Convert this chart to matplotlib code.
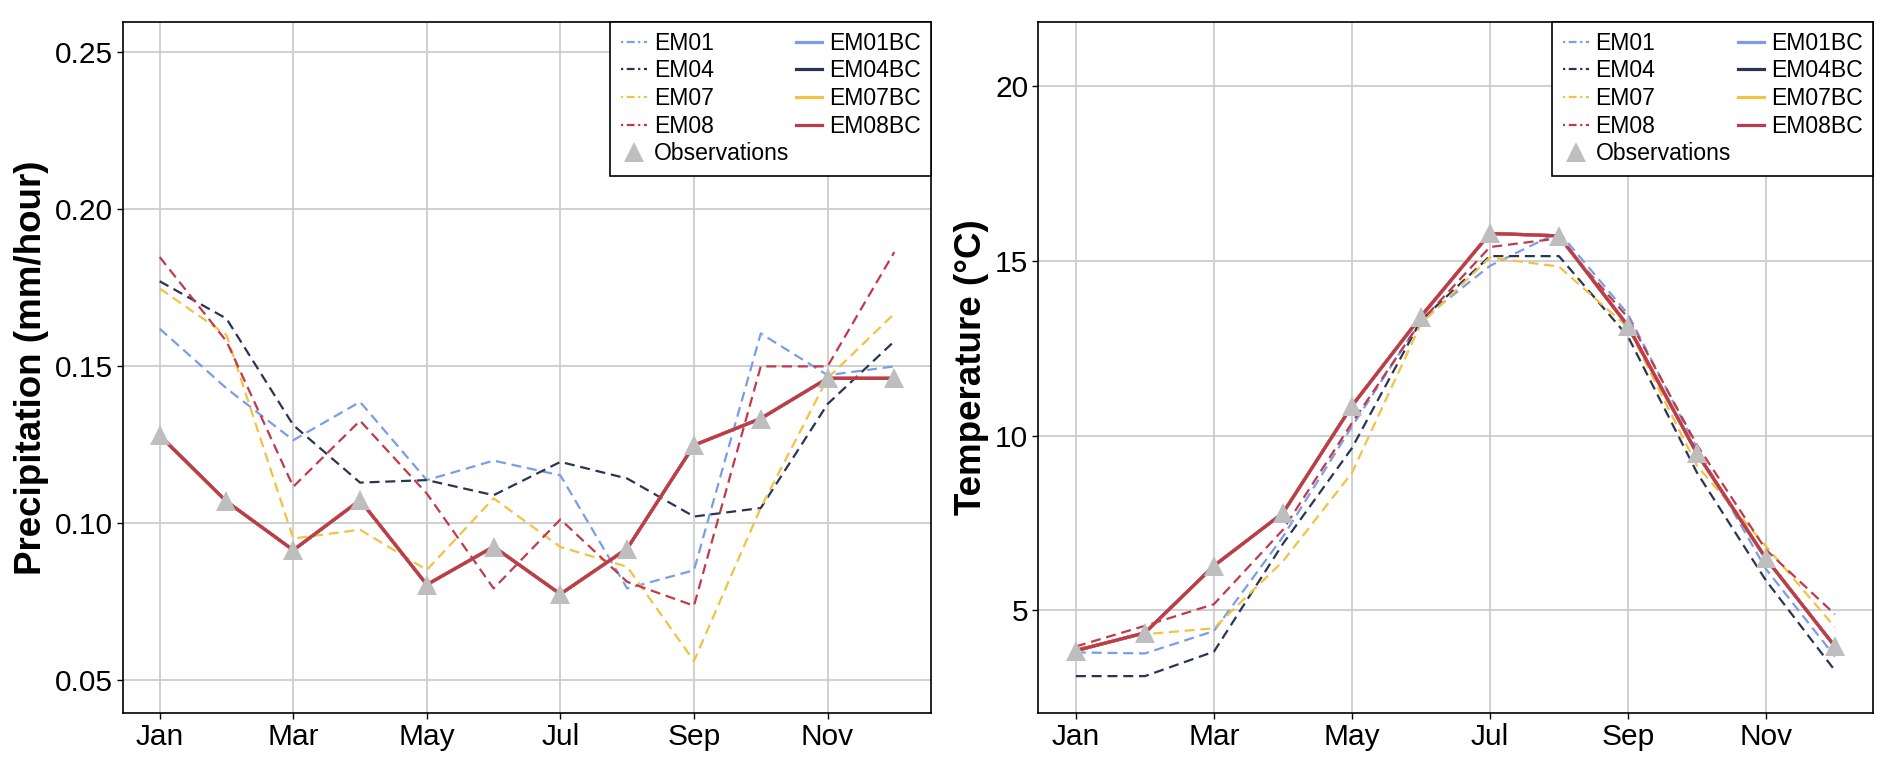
import matplotlib
matplotlib.use("Agg")
import matplotlib.pyplot as plt
from matplotlib.lines import Line2D

plt.rcParams['font.family'] = ['Liberation Sans', 'DejaVu Sans']

months = list(range(1, 13))
tick_months = [1, 3, 5, 7, 9, 11]
tick_labels = ["Jan", "Mar", "May", "Jul", "Sep", "Nov"]

# Precipitation (mm/hour)
pr_obs  = [0.128, 0.107, 0.0915, 0.1074, 0.0805, 0.0926, 0.0775, 0.092, 0.1249, 0.1334, 0.1462, 0.1462]
pr_em01 = [0.162, 0.143, 0.1265, 0.1387, 0.1138, 0.1200, 0.1153, 0.0793, 0.0851, 0.1605, 0.1472, 0.1500]
pr_em04 = [0.1771, 0.1652, 0.1313, 0.1130, 0.1138, 0.1090, 0.1196, 0.1143, 0.1022, 0.1049, 0.1380, 0.1580]
pr_em07 = [0.1748, 0.1600, 0.0952, 0.0980, 0.0852, 0.1080, 0.0925, 0.0862, 0.0562, 0.1050, 0.1462, 0.1668]
pr_em08 = [0.1848, 0.1580, 0.1117, 0.1327, 0.1095, 0.0793, 0.1013, 0.0814, 0.0738, 0.1500, 0.1500, 0.1864]
pr_bc = pr_obs

# Temperature (°C)
tas_obs  = [3.84, 4.35, 6.27, 7.78, 10.85, 13.41, 15.79, 15.72, 13.14, 9.49, 6.48, 3.96]
tas_em01 = [3.79, 3.76, 4.40, 7.10, 10.26, 13.30, 14.86, 15.83, 13.48, 9.64, 6.18, 3.67]
tas_em04 = [3.11, 3.11, 3.81, 6.90, 9.64, 13.30, 15.14, 15.14, 12.84, 8.94, 5.85, 3.27]
tas_em07 = [3.89, 4.31, 4.48, 6.40, 8.93, 13.20, 15.10, 14.84, 13.10, 9.14, 6.83, 4.51]
tas_em08 = [3.96, 4.55, 5.17, 7.30, 10.36, 13.27, 15.40, 15.65, 13.38, 9.73, 6.73, 4.88]
tas_bc = tas_obs

names = ["EM01", "EM04", "EM07", "EM08"]
colors = ["#7A9DE8", "#2A3455", "#F2C243", "#C13A4B"]
obs_color = "#BEBEBE"

fig = plt.figure(figsize=(18.92, 7.68), dpi=100)
ax1 = fig.add_axes([0.0650, 0.0710, 0.4271, 0.9010])
ax2 = fig.add_axes([0.5486, 0.0710, 0.4413, 0.9010])

def draw(ax, obs, models, bcs, ylim, yticks, yticklabels, ylabel):
    for m, c in zip(models, colors):
        ax.plot(months, m, color=c, lw=1.6, dashes=(4.5, 2.6), zorder=3)
    for b, c in zip(bcs, colors):
        ax.plot(months, b, color=c, lw=2.3, zorder=4)
    ax.plot(months, obs, linestyle="none", marker="^", ms=14, color=obs_color,
            markeredgewidth=0, zorder=5)
    ax.set_xlim(0.45, 12.55)
    ax.set_ylim(*ylim)
    ax.set_xticks(tick_months)
    ax.set_xticklabels(tick_labels)
    ax.set_yticks(yticks)
    ax.set_yticklabels(yticklabels)
    ax.grid(True, color="#CDCDCD", lw=1.3, zorder=0)
    ax.set_axisbelow(True)
    for s in ax.spines.values():
        s.set_color("black")
        s.set_linewidth(1.2)
    ax.tick_params(axis="both", labelsize=21.5, length=4, width=1.0, color="black",
                   labelcolor="black", pad=3)
    ax.set_ylabel(ylabel, fontsize=26.5, fontweight="bold", labelpad=4.5)

    handles = []
    for n, c in zip(names, colors):
        handles.append(Line2D([], [], color=c, lw=1.6, dashes=(1.0, 1.6, 3.5, 1.6)))
    handles.append(Line2D([], [], linestyle="none", marker="^", ms=14,
                          color=obs_color, markeredgewidth=0))
    for n, c in zip(names, colors):
        handles.append(Line2D([], [], color=c, lw=2.3))
    labels = names + ["Observations"] + [n + "BC" for n in names]
    leg = ax.legend(handles, labels, loc="upper right", ncol=2, fontsize=16.6,
                    frameon=True, fancybox=False, borderaxespad=0.0,
                    handlelength=1.15, handletextpad=0.28, columnspacing=0.3,
                    labelspacing=0.2, borderpad=0.45)
    leg.get_frame().set_edgecolor("black")
    leg.get_frame().set_linewidth(1.2)
    leg.get_frame().set_alpha(1.0)
    leg.set_zorder(10)

draw(ax1, pr_obs, [pr_em01, pr_em04, pr_em07, pr_em08], [pr_bc] * 4,
     (0.0395, 0.2598), [0.05, 0.10, 0.15, 0.20, 0.25],
     ["0.05", "0.10", "0.15", "0.20", "0.25"], "Precipitation (mm/hour)")
draw(ax2, tas_obs, [tas_em01, tas_em04, tas_em07, tas_em08], [tas_bc] * 4,
     (2.04, 21.86), [5, 10, 15, 20], ["5", "10", "15", "20"], "Temperature (°C)")

fig.savefig("out.png", dpi=100, facecolor="white")
